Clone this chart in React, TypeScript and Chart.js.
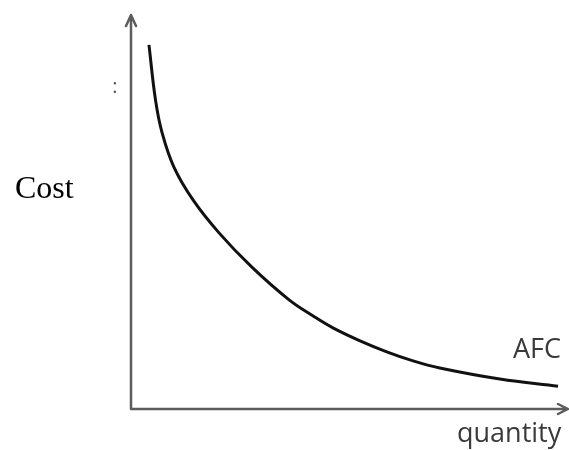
import React, { useEffect, useRef } from "react";
import { Chart, registerables } from "chart.js";

Chart.register(...registerables);

// Average fixed cost curve: quantity (x) vs cost (y), both on a 0–100 scale
const quantity = [4.1, 5.6, 7.1, 9.8, 14.2, 20.1, 27.6, 36.1, 41.6, 46.1, 52.3, 58.4, 64.4, 70.5, 84.2, 97.5];
const afc = [92.4, 78.4, 70.1, 61.4, 53.0, 44.7, 36.0, 27.7, 23.6, 20.6, 17.3, 14.5, 12.2, 10.4, 7.6, 5.8];

const yLabel = "Cost";
const xLabel = "quantity";
const curveLabel = "AFC";

const W = 569;
const H = 450;

// Draws the two arrowed axes and the free-standing labels
const sketchAxes = {
  id: "sketchAxes",
  afterDraw(chart: any) {
    const { ctx, chartArea } = chart;
    const { left, right, top, bottom } = chartArea;
    ctx.save();
    ctx.strokeStyle = "#5c5c5c";
    ctx.lineWidth = 2.5;
    ctx.lineCap = "round";
    ctx.lineJoin = "round";
    // y axis with arrow head
    ctx.beginPath();
    ctx.moveTo(left, bottom);
    ctx.lineTo(left, top);
    ctx.moveTo(left - 5, top + 11);
    ctx.lineTo(left, top);
    ctx.lineTo(left + 5, top + 11);
    // x axis with arrow head
    ctx.moveTo(left, bottom);
    ctx.lineTo(right - 1, bottom);
    ctx.moveTo(right - 11, bottom - 5);
    ctx.lineTo(right - 1, bottom);
    ctx.lineTo(right - 11, bottom + 5);
    ctx.stroke();

    ctx.textAlign = "left";
    ctx.textBaseline = "alphabetic";
    ctx.fillStyle = "#000";
    ctx.font = '32px "Liberation Serif"';
    ctx.fillText(yLabel, 15, 198);

    ctx.fillStyle = "#3a3a3a";
    ctx.font = '27px "Open Sans"';
    ctx.fillText(curveLabel, 513, 358);
    ctx.fillText(xLabel, 457, 442);

    ctx.fillStyle = "#555";
    ctx.font = '20px "Open Sans"';
    ctx.textAlign = "center";
    ctx.fillText(":", 115, 93);
    ctx.restore();
  },
};

export default function App() {
  const ref = useRef<HTMLCanvasElement>(null);

  useEffect(() => {
    if (!ref.current) return;
    const chart = new Chart(ref.current, {
      type: "line",
      data: {
        datasets: [
          {
            label: curveLabel,
            data: quantity.map((q, i) => ({ x: q, y: afc[i] })),
            borderColor: "#111",
            borderWidth: 3,
            pointRadius: 0,
            fill: false,
            tension: 0.4,
          },
        ],
      },
      options: {
        responsive: false,
        animation: false,
        layout: { padding: { left: 131, right: 0, top: 15, bottom: 41 } },
        plugins: { legend: { display: false }, tooltip: { enabled: false } },
        scales: {
          x: { type: "linear", min: 0, max: 100, display: false },
          y: { type: "linear", min: 0, max: 100, display: false },
        },
      },
      plugins: [sketchAxes],
    });
    return () => chart.destroy();
  }, []);

  return (
    <div style={{ position: "absolute", left: 0, top: 0, width: W, height: H, background: "#fff" }}>
      <canvas ref={ref} width={W} height={H} style={{ display: "block" }} />
    </div>
  );
}
